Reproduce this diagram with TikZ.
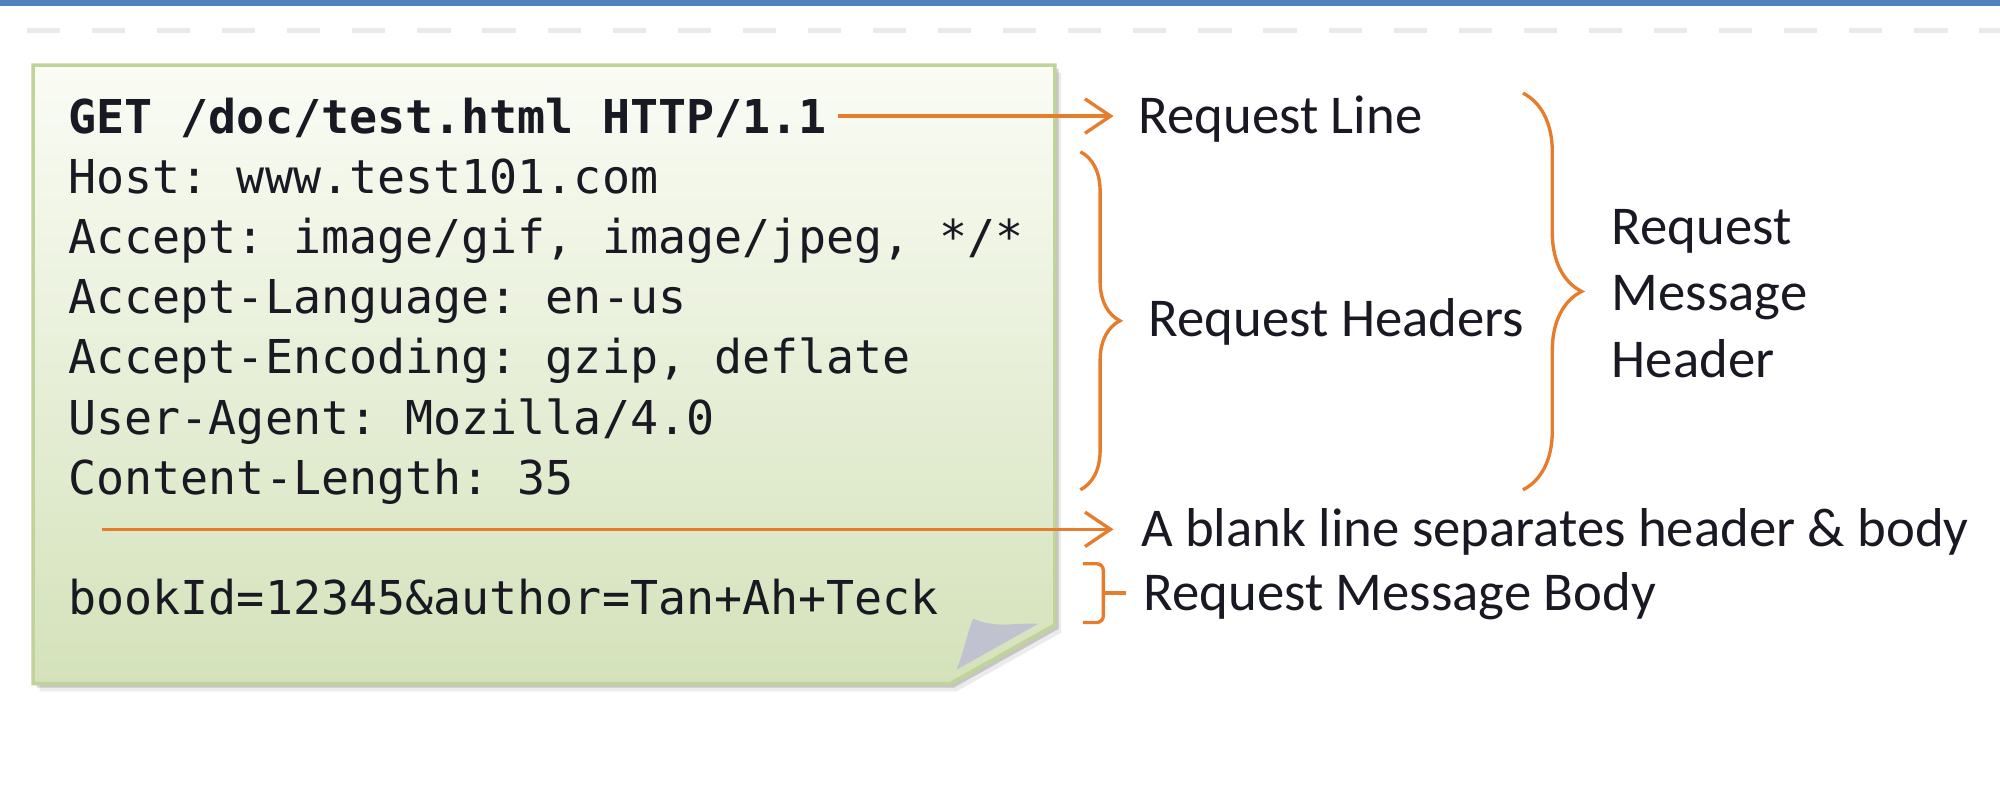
\documentclass[tikz,border=0pt]{standalone}
\usepackage{fontspec}
\setmonofont{DejaVu Sans Mono}
\newfontfamily\lblfont{Carlito}
\usepackage{tikz}
\usetikzlibrary{arrows.meta,decorations.pathreplacing,positioning,calc}

\definecolor{barblue}{RGB}{79,129,189}
\definecolor{dashgray}{RGB}{234,234,234}
\definecolor{notetop}{RGB}{250,252,245}
\definecolor{notebot}{RGB}{212,226,186}
\definecolor{noteedge}{RGB}{192,211,152}
\definecolor{arrorange}{RGB}{230,125,45}
\definecolor{foldgray}{RGB}{192,194,208}
\definecolor{ink}{RGB}{25,25,35}

\begin{document}
\begin{tikzpicture}[x=0.01cm, y=-0.01cm,
    code/.style={anchor=west, inner sep=0pt, text=ink, text height=7.6pt, text depth=0pt,
        font=\ttfamily\fontsize{10.4}{12.5}\selectfont},
    lbl/.style={anchor=west, inner sep=0pt, text=ink, text height=7.8pt, text depth=0pt,
        font=\lblfont\fontsize{12.2}{14.5}\selectfont},
    pointer/.style={draw=arrorange, line width=0.75pt, -{Straight Barb[length=0.2cm,width=0.27cm]}},
    brc/.style={draw=arrorange, line width=0.75pt, decorate, decoration={brace, amplitude=#1}}]
    \useasboundingbox (0,0) rectangle (1568,618);

    % page top
    \fill[barblue] (0,0) rectangle (1568,4.5);
    \draw[dashgray, line width=0.04cm, dash pattern=on 0.26cm off 0.25cm, dash phase=0.3cm] (0,24) -- (1568,24);

    % note
    \fill[black, opacity=0.08] (31,57) -- (832,57) -- (832,496) -- (750,542) -- (31,542) -- cycle;
    \fill[black, opacity=0.16] (29,54) -- (830,54) -- (830,493) -- (748,539) -- (29,539) -- cycle;
    \shade[top color=notetop, bottom color=notebot, draw=noteedge, line width=0.8pt]
        (26,51) -- (827,51) -- (827,490) -- (745,536) -- (26,536) -- cycle;
    \fill[foldgray] (763,485) .. controls (780,493) and (796,488) .. (814,489)
        -- (750,525) .. controls (756,510) and (758,497) .. (763,485) -- cycle;

    % request text
    \foreach \n/\txt in {0/{\textbf{GET /doc/test.html HTTP/1.1}}, 1/{Host: www.test101.com},
        2/{Accept: image/gif, image/jpeg, */*}, 3/{Accept-Language: en-us},
        4/{Accept-Encoding: gzip, deflate}, 5/{User-Agent: Mozilla/4.0},
        6/{Content-Length: 35}, 8/{bookId=12345\&author=Tan+Ah+Teck}}
        \node[code] (l\n) at (53, 91+47.2*\n) {\txt};
    \coordinate (blank) at (80,415);

    % labels
    \node[lbl] (rline) at (892,91) {Request Line};
    \node[lbl] (rhdrs) at (900,250) {Request Headers};
    \foreach \w [count=\i] in {Request, Message, Header}
        \node[lbl] (msg\i) at (1263, 126+52*\i) {\w};
    \node[lbl] (gap) at (894,415) {A blank line separates header \& body};
    \node[lbl] (rbody) at (896,465) {Request Message Body};

    \draw[pointer, shorten <=0.08cm, shorten >=0.19cm] (l0.east) -- (rline.west);
    \draw[pointer, shorten >=0.21cm] (blank) -- (gap.west);

    % braces
    \draw[brc=0.31cm] (847,119) -- (847,384);
    \draw[brc=0.46cm] (1194,73) -- (1194,384);
    \draw[draw=arrorange, line width=0.75pt, rounded corners=0.05cm] (849,442) -- (865,442) -- (865,488) -- (849,488);
    \draw[draw=arrorange, line width=0.75pt] (865,465) -- (883,465);
\end{tikzpicture}
\end{document}
